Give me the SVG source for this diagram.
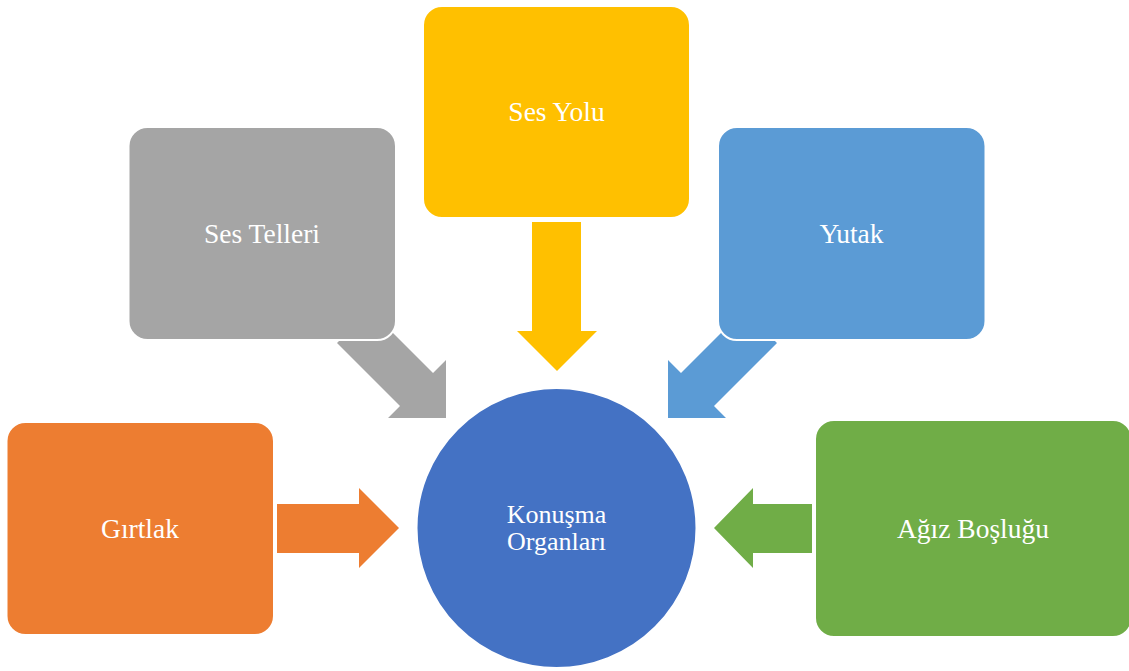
<svg xmlns="http://www.w3.org/2000/svg" width="1129" height="671" viewBox="0 0 1129 671">
<style>
.box{stroke:#FFFFFF;stroke-width:2}
.lbl{font-family:"Liberation Serif","Times New Roman",serif;font-size:27.5px;fill:#FFFFFF;text-anchor:middle}
.clbl{font-family:"Liberation Serif","Times New Roman",serif;font-size:26px;fill:#FFFFFF;text-anchor:middle}
</style>
<rect width="1129" height="671" fill="#FFFFFF"/>
<g id="connectors">
<polygon points="370,310 337,343 400,406 388,418 446,418 446,360 433,373" fill="#A5A5A5"/>
<polygon points="744,310 777,343 714,406 726,418 668,418 668,360 681,373" fill="#5B9BD5"/>
<polygon points="532,222 581,222 581,331 597,331 557,371 517,331 532,331" fill="#FFC000"/>
<polygon points="277,504 359,504 359,488 399,528 359,568 359,553 277,553" fill="#ED7D31"/>
<polygon points="812,504 753,504 753,488 714,528 753,568 753,553 812,553" fill="#70AD47"/>
</g>
<g id="node-sesteller">
<rect class="box" x="128.5" y="127" width="267.5" height="213" rx="19" fill="#A5A5A5"/>
<text class="lbl" x="262" y="243">Ses Telleri</text>
</g>
<g id="node-sesyolu">
<rect class="box" x="423" y="6" width="267" height="212" rx="19" fill="#FFC000"/>
<text class="lbl" x="556.5" y="121">Ses Yolu</text>
</g>
<g id="node-yutak">
<rect class="box" x="718" y="127" width="267.5" height="213" rx="19" fill="#5B9BD5"/>
<text class="lbl" x="851.5" y="243">Yutak</text>
</g>
<g id="node-girtlak">
<rect class="box" x="6.5" y="422" width="267.5" height="213" rx="19" fill="#ED7D31"/>
<text class="lbl" x="140" y="538">Gırtlak</text>
</g>
<g id="node-agiz">
<rect class="box" x="815" y="420" width="317" height="217" rx="19" fill="#70AD47"/>
<text class="lbl" x="973" y="538">Ağız Boşluğu</text>
</g>
<g id="node-center">
<circle class="box" cx="556.5" cy="528" r="140" fill="#4472C4"/>
<text class="clbl" x="556.5" y="523">Konuşma</text>
<text class="clbl" x="556.5" y="550">Organları</text>
</g>
</svg>
